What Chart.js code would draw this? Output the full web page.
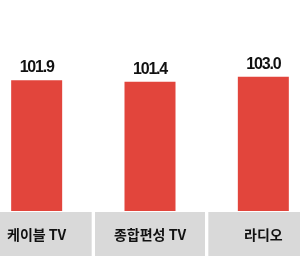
<!DOCTYPE html>
<html>
<head>
<meta charset="utf-8">
<script src="https://cdn.jsdelivr.net/npm/chart.js@4"></script>
<style>
  html, body { margin: 0; padding: 0; background: #fff; }
  #wrap { position: relative; width: 300px; height: 259px; overflow: hidden; }
  #chart { position: absolute; left: -20px; top: 0; }
</style>
</head>
<body>
<div id="wrap"><canvas id="chart" width="340" height="259"></canvas></div>
<script>
// 매체별 지수
const categories = ['케이블 TV', '종합편성 TV', '라디오'];
const values = [101.9, 101.4, 103.0];
const axisMin = 60;
const axisMax = 125;

// ── 카테고리 박스 + 값 라벨 ─────────────────────────────
const boxPlugin = {
  id: 'boxes',
  beforeDraw(chart) {
    const { ctx, scales: { x } } = chart;
    const half = 55;
    ctx.save();
    ctx.fillStyle = '#D9D9D9';
    categories.forEach((c, i) => {
      const cx = x.getPixelForValue(i);
      ctx.fillRect(cx - half, 212, half * 2, 44);
    });
    ctx.fillStyle = '#111';
    ctx.font = 'bold 14px "Noto Sans CJK KR", sans-serif';
    ctx.textAlign = 'center';
    ctx.textBaseline = 'middle';
    categories.forEach((c, i) => {
      ctx.fillText(c, x.getPixelForValue(i), 235);
    });
    ctx.restore();
  },
  afterDatasetsDraw(chart) {
    const { ctx } = chart;
    const meta = chart.getDatasetMeta(0);
    ctx.save();
    ctx.fillStyle = '#111';
    ctx.font = 'bold 16px "Liberation Sans", sans-serif';
    ctx.letterSpacing = '-1.2px';
    ctx.textAlign = 'center';
    ctx.textBaseline = 'alphabetic';
    meta.data.forEach((bar, i) => {
      ctx.fillText(values[i].toFixed(1), bar.x, bar.y - 8);
    });
    ctx.restore();
  }
};

new Chart(document.getElementById('chart'), {
  type: 'bar',
  data: {
    labels: categories,
    datasets: [{
      data: values,
      backgroundColor: '#E2453C',
      borderWidth: 0,
      barPercentage: 0.45,
      categoryPercentage: 1
    }]
  },
  options: {
    responsive: false,
    animation: false,
    devicePixelRatio: 1,
    layout: { padding: { top: 8, bottom: 48, left: 0, right: 0 } },
    scales: {
      x: { display: false },
      y: { display: false, min: axisMin, max: axisMax }
    },
    plugins: { legend: { display: false }, tooltip: { enabled: false } }
  },
  plugins: [boxPlugin]
});
</script>
</body>
</html>
